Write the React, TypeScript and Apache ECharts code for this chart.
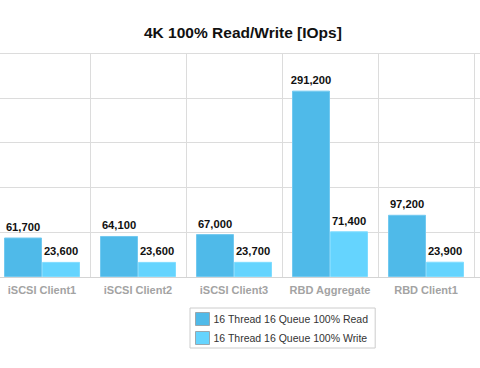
import React, { useEffect, useRef } from "react";
import * as echarts from "echarts";

const categories = ["iSCSI Client1", "iSCSI Client2", "iSCSI Client3", "RBD Aggregate", "RBD Client1", ""];
const readValues: (number | null)[] = [61700, 64100, 67000, 291200, 97200, null];
const writeValues: (number | null)[] = [23600, 23600, 23700, 71400, 23900, null];
const seriesNames = ["16 Thread 16 Queue 100% Read", "16 Thread 16 Queue 100% Write"];
const yMax = 350000;
const yInterval = 70000;

const FONT = "'Liberation Sans', Arial, Helvetica, sans-serif";

export default function App() {
  const ref = useRef<HTMLDivElement>(null);
  useEffect(() => {
    if (!ref.current) return;
    const chart = echarts.init(ref.current, null, { renderer: "svg" });
    const labelCfg = {
      show: true,
      position: "top" as const,
      distance: 5,
      color: "#111",
      fontWeight: "bold" as const,
      fontSize: 11.2,
      fontFamily: FONT,
      formatter: (p: any) => (p.value == null ? "" : Number(p.value).toLocaleString("en-US")),
    };
    chart.setOption({
      animation: false,
      backgroundColor: "#fff",
      title: {
        text: "4K 100% Read/Write [IOps]",
        left: 139,
        top: 19,
        textStyle: { fontSize: 15.5, fontWeight: "bold", color: "#111", fontFamily: FONT },
      },
      legend: {
        orient: "vertical",
        left: 190,
        top: 308,
        data: seriesNames,
        icon: "rect",
        itemWidth: 14,
        itemHeight: 13,
        itemGap: 5,
        padding: [4, 7, 3, 5],
        borderColor: "#cccccc",
        borderWidth: 1,
        borderRadius: 0,
        itemStyle: { borderColor: "#9aa7ad", borderWidth: 1 },
        textStyle: { fontSize: 10.5, color: "#333", fontFamily: FONT, padding: [0, 0, 0, -1] },
      },
      grid: {
        left: -6,
        width: 576,
        top: 53,
        height: 224,
        containLabel: false,
        outerBoundsMode: "none",
      },
      xAxis: {
        type: "category",
        data: categories,
        boundaryGap: true,
        axisTick: { show: false },
        axisLine: { show: true, lineStyle: { color: "#d4d4d4", width: 1 } },
        splitLine: { show: true, lineStyle: { color: "#dcdcdc", width: 1 } },
        axisLabel: {
          color: "#a3a3a3",
          fontWeight: "bold",
          fontSize: 11,
          fontFamily: FONT,
          margin: 7,
          interval: 0,
        },
      },
      yAxis: {
        type: "value",
        min: 0,
        max: yMax,
        interval: yInterval,
        axisLabel: { show: false },
        axisLine: { show: false },
        axisTick: { show: false },
        splitLine: { show: true, lineStyle: { color: "#dcdcdc", width: 1 } },
      },
      series: [
        {
          name: seriesNames[0],
          type: "bar",
          data: readValues,
          barWidth: 38,
          barGap: "0%",
          itemStyle: { color: "#4fbae9", borderColor: "#72c9f0", borderWidth: 1 },
          label: labelCfg,
        },
        {
          name: seriesNames[1],
          type: "bar",
          data: writeValues,
          barWidth: 38,
          barGap: "0%",
          itemStyle: { color: "#65d4fe", borderColor: "#7fdcff", borderWidth: 1 },
          label: labelCfg,
        },
      ],
    });
    return () => chart.dispose();
  }, []);
  return <div ref={ref} style={{ width: 480, height: 368, position: "fixed", left: 0, top: 0 }} />;
}
